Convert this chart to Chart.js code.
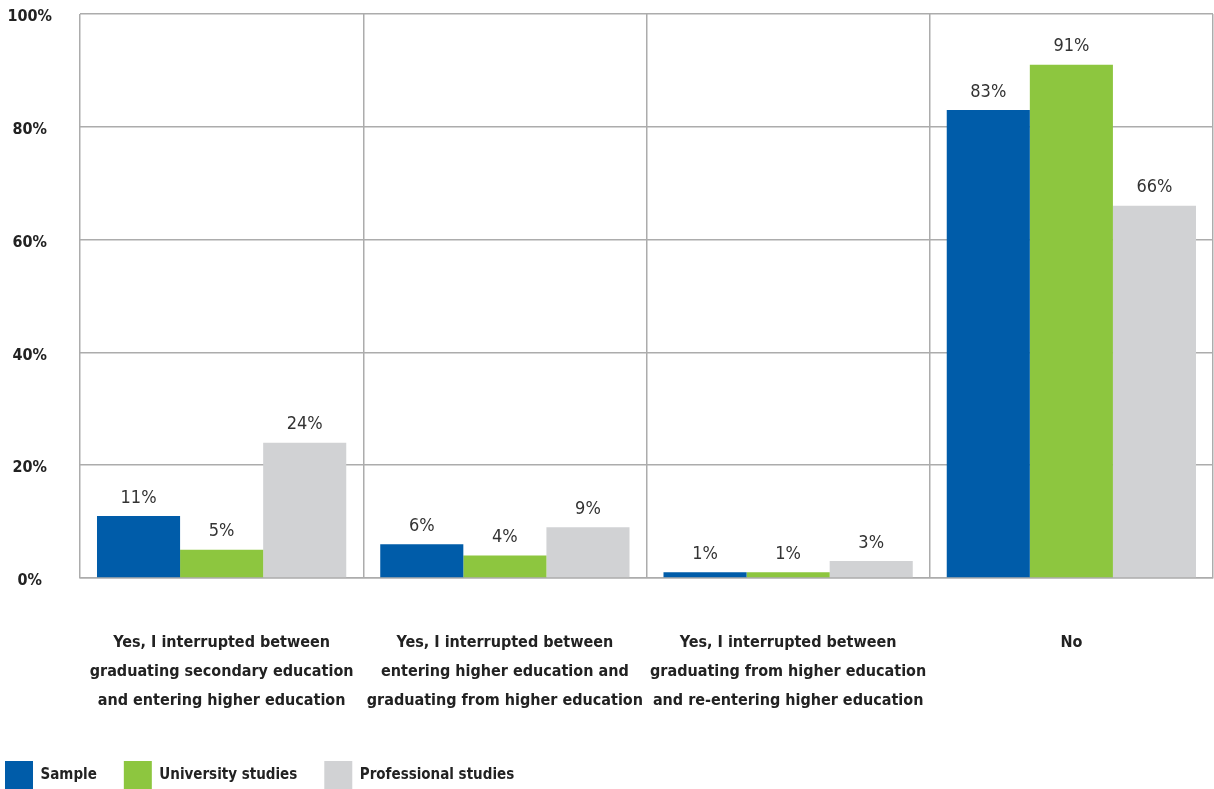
<!DOCTYPE html>
<html>
<head>
<meta charset="utf-8">
<script src="https://cdn.jsdelivr.net/npm/chart.js@4.4.1/dist/chart.umd.min.js"></script>
<style>
  html, body { margin: 0; padding: 0; background: #fff; }
  #wrap { width: 1214px; height: 789px; }
</style>
</head>
<body>
<div id="wrap"><canvas id="chart"></canvas></div>
<script>
// Interruption of studies by group — grouped bars

const categories = [
  ['Yes, I interrupted between', 'graduating secondary education', 'and entering higher education'],
  ['Yes, I interrupted between', 'entering higher education and', 'graduating from higher education'],
  ['Yes, I interrupted between', 'graduating from higher education', 'and re-entering higher education'],
  ['No'],
];
const sampleValues = [11, 6, 1, 83];
const universityValues = [5, 4, 1, 91];
const professionalValues = [24, 9, 3, 66];
const yTicks = [0, 20, 40, 60, 80, 100];

const FONT = '"DejaVu Sans Condensed", "Liberation Sans Narrow", sans-serif';
const GRID = '#acacac';

const valueLabels = {
  id: 'valueLabels',
  afterDatasetsDraw(chart) {
    const { ctx } = chart;
    ctx.save();
    ctx.font = `18px ${FONT}`;
    ctx.fillStyle = '#333';
    ctx.textAlign = 'center';
    ctx.textBaseline = 'bottom';
    chart.data.datasets.forEach((ds, i) => {
      chart.getDatasetMeta(i).data.forEach((bar, j) => {
        ctx.fillText(ds.data[j] + '%', bar.x, bar.y - 9);
      });
    });
    ctx.restore();
  },
};

new Chart(document.getElementById('chart'), {
  type: 'bar',
  data: {
    labels: categories,
    datasets: [
      { label: 'Sample', data: sampleValues, backgroundColor: '#005ca9' },
      { label: 'University studies', data: universityValues, backgroundColor: '#8dc63f' },
      { label: 'Professional studies', data: professionalValues, backgroundColor: '#d1d2d4' },
    ],
  },
  options: {
    responsive: true,
    maintainAspectRatio: false,
    animation: false,
    layout: { padding: { top: 14, right: 1, left: -22, bottom: -10 } },
    datasets: { bar: { categoryPercentage: 0.88, barPercentage: 1 } },
    plugins: {
      tooltip: { enabled: false },
      legend: {
        position: 'bottom',
        align: 'start',
        labels: {
          boxWidth: 28,
          boxHeight: 28,
          padding: 27,
          color: '#222',
          font: { family: FONT, size: 15, weight: 'bold' },
        },
      },
    },
    scales: {
      x: {
        // ticks padding is counted twice in fit(); trim the extra
        afterFit: (scale) => { scale.height -= 31; },
        grid: { color: GRID, lineWidth: 1.5, offset: true, drawTicks: false },
        border: { color: GRID, width: 1.5 },
        ticks: {
          color: '#222',
          padding: 50,
          maxRotation: 0,
          autoSkip: false,
          font: { family: FONT, size: 16, weight: 'bold', lineHeight: '29px' },
        },
      },
      y: {
        min: 0,
        max: 100,
        afterBuildTicks: (scale) => { scale.ticks = yTicks.map(v => ({ value: v })); },
        afterFit: (scale) => {
          scale.width = 102;
          scale.paddingTop = 0;
          scale.paddingBottom = 0;
        },
        grid: { color: GRID, lineWidth: 1.5, drawTicks: false },
        border: { display: false },
        ticks: {
          color: '#222',
          padding: 28,
          labelOffset: 3,
          crossAlign: 'center',
          font: { family: FONT, size: 16, weight: 'bold' },
          callback: v => v + '%',
        },
      },
    },
  },
  plugins: [valueLabels],
});
</script>
</body>
</html>
